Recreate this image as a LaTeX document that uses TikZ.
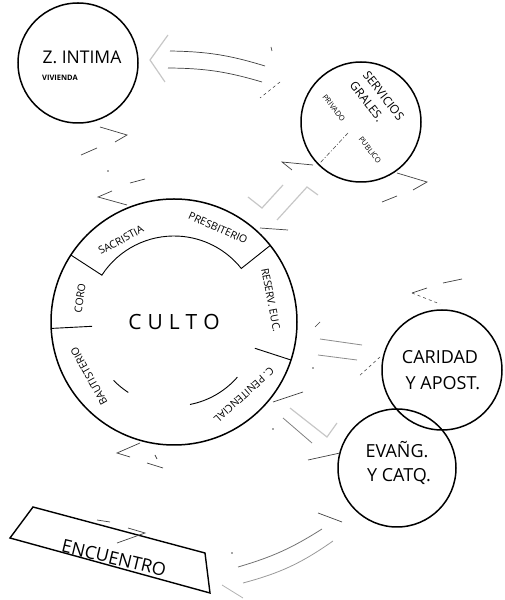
\documentclass[tikz,border=0pt]{standalone}
\usepackage{fontspec}
\setmainfont{Open Sans}
\usetikzlibrary{calc}
\begin{document}
\begin{tikzpicture}[x=1pt,y=1pt,
  bubble/.style={draw=black,line width=1.5pt,circle,inner sep=0pt},
  ring/.style={draw=black,line width=0.9pt},
  lbl/.style={inner sep=0pt,font=\fontsize{10.5}{12}\selectfont},
  big/.style={inner sep=0pt,font=\fontsize{18}{20}\selectfont},
  conn/.style={draw=black!75,line width=0.7pt},
  faint/.style={draw=black!22,line width=1.2pt},
  dsh/.style={draw=black!70,line width=0.6pt,dash pattern=on 3pt off 3pt}]
\useasboundingbox (0,0) rectangle (505,600);
% ---------- bubbles ----------
\node[bubble,minimum size=120pt] (zi) at (78,537) {};
\node[inner sep=0pt,font=\fontsize{17.5}{20}\selectfont] (zit) at (82,543) {Z. INTIMA};
\node[inner sep=0pt,font=\bfseries\fontsize{7.5}{8}\selectfont] (viv) at (60,522) {VIVIENDA};

\node[bubble,minimum size=120pt] (sg) at (361,478) {};
\node[inner sep=0pt,rotate=-52,align=left,font=\fontsize{12}{17}\selectfont] (sgt) at (377,499) {SERVICIOS\\GRALES.};
\node[inner sep=0pt,rotate=-52,font=\fontsize{7.5}{8}\selectfont] (priv) at (334,492) {PRIVADO};
\node[inner sep=0pt,rotate=-52,font=\fontsize{7.5}{8}\selectfont] (pub) at (370,450) {PUBLICO};
\draw[draw=black!70,line width=0.6pt,dash pattern=on 4pt off 2pt on 1pt off 2pt] (348,467) -- (320,437);

\node[bubble,minimum size=246pt] (cu) at (174,278) {};
\node[inner sep=0pt,font=\fontsize{21}{23}\selectfont] (cut) at (174,278) {C\hspace{6pt}U\hspace{6pt}L\hspace{6pt}T\hspace{6pt}O};
% ring subdivisions
\draw[ring] ($(cu.center)+(147:123)$) -- ($(cu.center)+(147:86)$) arc[start angle=147,end angle=38.5,radius=86] -- ($(cu.center)+(38.5:123)$);
\draw[ring] ($(cu.center)+(183:123)$) -- ($(cu.center)+(183:82)$);
\draw[ring] ($(cu.center)+(-18:123)$) -- ($(cu.center)+(-18:85)$);
\draw[ring] ($(cu.center)+(-79:84)$) arc[start angle=-79,end angle=-41,radius=84];
\draw[ring] ($(cu.center)+(224:84)$) arc[start angle=224,end angle=237,radius=84];
\node[lbl,rotate=28] (sac) at (121,360) {SACRISTIA};
\node[lbl,rotate=-24] (pre) at (218,372) {PRESBITERIO};
\node[lbl,rotate=-79] (res) at (271,300) {RESERV. EUC.};
\node[lbl,rotate=82] (cor) at (80,302) {CORO};
\node[lbl,rotate=119] (bau) at (89,224) {BAUTISTERIO};
\node[lbl,rotate=-138] (pen) at (244,205) {C. PENITENCIAL};

\node[bubble,minimum size=120pt] (ca) at (442,230) {};
\node[big] (cat1) at (440,243) {CARIDAD};
\node[big] (cat2) at (443,217) {Y APOST.};

\node[bubble,minimum size=118pt] (ev) at (397,132) {};
\node[big] (evt1) at (397,150) {EVAÑG.};
\node[big] (evt2) at (399,123) {Y CATQ.};

\draw[draw=black,line width=1.4pt] (33,93) coordinate (e1) -- (10,62) coordinate (e2)
   -- (210,7) coordinate (e3) -- (205,47) coordinate (e4) -- cycle;
\node[big,rotate=-13.5] (enc) at (114,42) {ENCUENTRO};

% ---------- sketch connectors ----------
% Z. INTIMA <-> SERVICIOS
\draw[conn] (170,549) to[bend left=8] (265,534);
\draw[conn] (168,532) to[bend left=8] (262,518);
\draw[faint] (168,565) -- (150,540) -- (165,518);
\draw[conn] (271,553) -- (272,549);
\draw[dsh] (280,518) -- (260,502);
% SERVICIOS <-> CULTO
\draw[conn] (313,435) -- (282,438) -- (292,430);
\draw[faint] (248,403) -- (262,392) -- (283,415);
\draw[faint] (277,380) -- (307,413) -- (318,405);
\draw[conn] (260,372) -- (288,370);
\draw[conn] (382,398) -- (397,404);
\draw[conn] (397,427) -- (427,418) -- (413,410);
% Z. INTIMA <-> CULTO
\draw[conn] (100,473) -- (127,465) -- (115,458);
\draw[conn] (97,452) -- (81,445);
\fill[black!70] (108,429) circle (0.8pt);
\draw[conn] (130,417) -- (145,421);
\draw[conn] (112,409) -- (98,403) -- (127,395);
% CULTO <-> CARIDAD
\draw[conn] (443,317) -- (462,321);
\draw[conn] (427,312) -- (412,307);
\draw[dsh] (412,307) -- (440,296);
\draw[conn] (320,278) -- (315,273);
\draw[draw=black!45,line width=0.8pt] (320,261) -- (362,255);
\draw[draw=black!45,line width=0.8pt] (318,245) -- (357,240);
\draw[dsh] (380,243) -- (358,223);
\fill[black!70] (313,232) circle (0.8pt);
% CULTO <-> EVANG
\draw[conn] (273,198) -- (303,208);
\draw[faint] (290,192) -- (327,163) -- (337,177);
\draw[draw=black!50,line width=0.8pt] (283,182) -- (312,157);
\draw[conn] (308,140) -- (340,147);
\fill[black!70] (273,171) circle (0.8pt);
% EVANG <-> ENCUENTRO
\draw[conn] (318,87) -- (342,78);
\draw[draw=black!55,line width=0.8pt] (238,33) to[bend right=8] (322,71);
\draw[draw=black!40,line width=0.8pt] (243,17) to[bend right=10] (333,59);
\draw[draw=black!30,line width=0.8pt] (222,15) -- (243,2);
\fill[black!70] (232,47) circle (0.8pt);
% CULTO <-> ENCUENTRO
\draw[conn] (140,157) -- (117,147) -- (130,143);
\draw[conn] (147,137) -- (163,132);
\draw[conn] (155,145) -- (157,141);
\draw[conn] (97,80) -- (110,78);
\draw[conn] (128,72) -- (145,67) -- (117,57);
\end{tikzpicture}
\end{document}
